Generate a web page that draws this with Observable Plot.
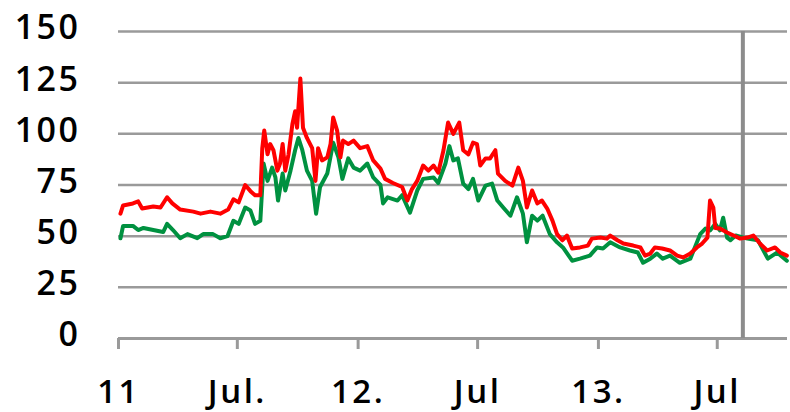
<!DOCTYPE html>
<html>
<head>
<meta charset="utf-8">
<script src="https://cdn.jsdelivr.net/npm/d3@7"></script>
<script src="https://cdn.jsdelivr.net/npm/@observablehq/plot@0.6"></script>
<style>
  html, body { margin: 0; padding: 0; background: #fff; }
  #chart svg { display: block; }
</style>
</head>
<body>
<div id="chart"></div>
<script>
// ---- data ----
const redDates = ["2011-01-04","2011-01-08","2011-01-23","2011-01-31","2011-02-06","2011-02-23","2011-03-06","2011-03-16","2011-03-24","2011-04-05","2011-04-25","2011-05-06","2011-05-21","2011-06-05","2011-06-17","2011-06-25","2011-07-03","2011-07-13","2011-07-21","2011-07-28","2011-08-05","2011-08-08","2011-08-11","2011-08-16","2011-08-20","2011-08-25","2011-08-31","2011-09-04","2011-09-08","2011-09-12","2011-09-17","2011-09-23","2011-09-27","2011-09-30","2011-10-05","2011-10-09","2011-10-15","2011-10-23","2011-10-28","2011-11-01","2011-11-07","2011-11-15","2011-11-20","2011-11-24","2011-11-30","2011-12-05","2011-12-09","2011-12-17","2011-12-25","2012-01-04","2012-01-15","2012-01-24","2012-02-04","2012-02-11","2012-02-23","2012-03-08","2012-03-16","2012-03-23","2012-03-31","2012-04-09","2012-04-17","2012-04-25","2012-05-02","2012-05-10","2012-05-17","2012-05-25","2012-06-03","2012-06-09","2012-06-17","2012-06-24","2012-06-30","2012-07-05","2012-07-13","2012-07-20","2012-07-28","2012-08-01","2012-08-12","2012-08-23","2012-09-01","2012-09-08","2012-09-14","2012-09-22","2012-09-30","2012-10-07","2012-10-15","2012-10-23","2012-10-30","2012-11-07","2012-11-14","2012-11-22","2012-12-04","2012-12-16","2012-12-22","2013-01-04","2013-01-14","2013-01-19","2013-01-30","2013-02-08","2013-02-23","2013-03-06","2013-03-13","2013-03-21","2013-03-28","2013-04-08","2013-04-20","2013-05-01","2013-05-10","2013-05-21","2013-05-31","2013-06-08","2013-06-16","2013-06-20","2013-06-25","2013-06-28","2013-07-05","2013-07-16","2013-07-26","2013-08-05","2013-08-16","2013-08-25","2013-09-04","2013-09-15","2013-09-27","2013-10-05","2013-10-15"];
const redValues = [61,65,66,67,63.5,64.5,64,69,66,63,62,61,62,61,63,68,66.5,75,72,70,70,93,101.6,90,95,92,82,85.5,95,82,90,105,111,103,127,103,98,93,77,93,87,88.5,95,108,101.6,88.5,96.7,95,96.7,93,94,87,83,78,76,74,67.4,73,77,84.5,82,84.5,81,92,105.5,100,105.5,92,90,95.7,95,84.5,88,88,92,80.6,77,74.7,83.5,77,64,72.3,66,67.4,63.5,57.6,51,48,50.3,44,44.5,45.4,48.8,49.3,48.8,50.3,48,46.4,45.4,44.5,40.5,41.5,44.5,44,43,40.5,39.6,41.5,44.5,46.4,49.3,67.4,64,54,53.7,51.8,50.3,48.8,49.3,50.3,46.4,43,44.5,42,40.5];

const greenDates = ["2011-01-04","2011-01-08","2011-01-23","2011-01-31","2011-02-08","2011-02-23","2011-03-10","2011-03-16","2011-03-25","2011-04-05","2011-04-16","2011-05-01","2011-05-10","2011-05-25","2011-06-05","2011-06-16","2011-06-25","2011-07-03","2011-07-13","2011-07-21","2011-07-28","2011-08-05","2011-08-10","2011-08-16","2011-08-23","2011-08-28","2011-09-01","2011-09-08","2011-09-12","2011-09-20","2011-09-27","2011-10-02","2011-10-08","2011-10-15","2011-10-23","2011-10-29","2011-11-04","2011-11-15","2011-11-24","2011-12-02","2011-12-08","2011-12-17","2011-12-25","2012-01-04","2012-01-15","2012-01-24","2012-02-04","2012-02-08","2012-02-15","2012-03-01","2012-03-08","2012-03-20","2012-03-31","2012-04-09","2012-04-25","2012-05-02","2012-05-13","2012-05-19","2012-05-25","2012-06-01","2012-06-09","2012-06-17","2012-06-24","2012-07-02","2012-07-13","2012-07-23","2012-07-31","2012-08-09","2012-08-20","2012-08-30","2012-09-08","2012-09-14","2012-09-22","2012-09-30","2012-10-08","2012-10-19","2012-10-30","2012-11-08","2012-11-22","2012-12-04","2012-12-19","2012-12-30","2013-01-08","2013-01-19","2013-02-03","2013-02-18","2013-03-02","2013-03-10","2013-03-21","2013-03-31","2013-04-09","2013-04-20","2013-05-05","2013-05-21","2013-06-05","2013-06-13","2013-06-20","2013-06-28","2013-07-05","2013-07-10","2013-07-16","2013-07-21","2013-07-29","2013-08-16","2013-09-01","2013-09-16","2013-09-30","2013-10-15"];
const greenValues = [49,55,55,53,54,53,52,56,53,49,51,49,51,51,49,50,57.5,56,64,62.5,56,57.5,85.5,77,83.5,78.7,67.4,80.6,72.3,82,92,98,92,82,77,61,74,80.6,95.7,88.5,78,88,83.5,82,85.5,78.7,75,66,69,67.4,70,61.5,72.3,78,78.7,76,85.5,94,87,88,75.7,73,78,67.4,74.7,75.7,67.4,64,60,69,61,47,60,57.6,60,51,47,44.5,38,39,40.5,44.5,44,47,44.5,43,42,37,39,41.5,39,40.5,37,39,51,53.7,52.8,56,52.8,59,49.3,48,50.3,48.8,48,39,42,38];

const yTicks = [0, 25, 50, 75, 100, 125, 150];
const xTickDates = ["2011-01-01","2011-07-01","2012-01-01","2012-07-01","2013-01-01","2013-07-01"];
const xTickLabels = ["11","Jul.","12.","Jul","13.","Jul"];
const markerDate = "2013-08-09";
const xStart = "2011-01-01";
const xEnd = "2013-10-16";

// ---- build ----
const parse = d3.utcParse("%Y-%m-%d");
const red = redDates.map((d, i) => ({date: parse(d), value: redValues[i]}));
const green = greenDates.map((d, i) => ({date: parse(d), value: greenValues[i]}));
const tickDates = xTickDates.map(parse);
const labelByTime = new Map(tickDates.map((d, i) => [+d, xTickLabels[i]]));

const chart = Plot.plot({
  width: 790,
  height: 412,
  marginLeft: 118,
  marginRight: 3,
  marginTop: 31,
  marginBottom: 74,
  style: {fontFamily: "'Open Sans', sans-serif", fontWeight: 600, letterSpacing: "2.5px", background: "#fff", color: "#000"},
  x: {type: "utc", domain: [parse(xStart), parse(xEnd)]},
  y: {domain: [0, 150]},
  marks: [
    Plot.ruleY(yTicks.filter(d => d > 0), {stroke: "#9a9a9a", strokeWidth: 2.5}),
    Plot.axisY(yTicks, {tickSize: 0, tickPadding: 38, fontSize: 34, dy: -3, fill: "#000", label: null}),
    Plot.axisX(tickDates, {tickSize: 11, tickPadding: 30, fontSize: 33, stroke: "#9a9a9a", strokeWidth: 3, fill: "#000", tickFormat: d => labelByTime.get(+d), label: null}),
    Plot.ruleY([0], {stroke: "#9a9a9a", strokeWidth: 3}),
    Plot.ruleX([parse(markerDate)], {y1: 0, y2: 150, stroke: "#8c8c8c", strokeWidth: 4}),
    Plot.line(green, {x: "date", y: "value", stroke: "#009140", strokeWidth: 4, strokeLinejoin: "round"}),
    Plot.line(red, {x: "date", y: "value", stroke: "#ff0000", strokeWidth: 4, strokeLinejoin: "round"})
  ]
});
document.getElementById("chart").appendChild(chart);
</script>
</body>
</html>
